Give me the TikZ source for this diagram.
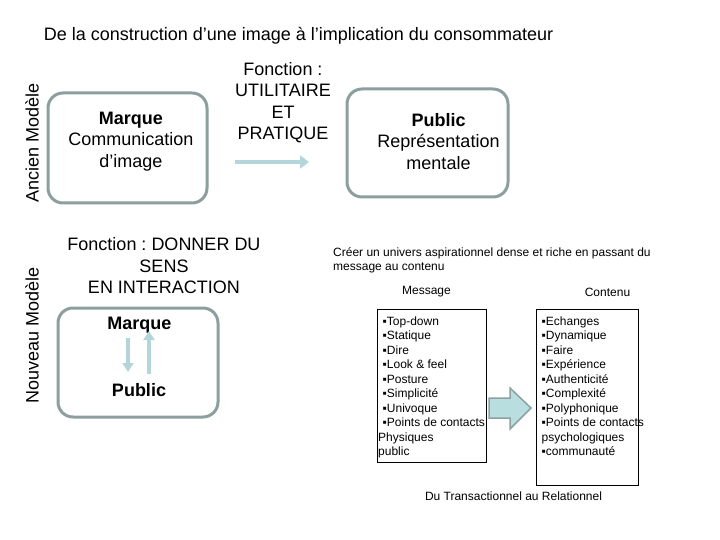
\documentclass[tikz,border=0pt]{standalone}
\usepackage{fontspec}
\setmainfont{Liberation Sans}
\usetikzlibrary{arrows.meta}
\definecolor{boxgray}{RGB}{140,158,158}
\definecolor{arrblue}{RGB}{180,214,218}
\definecolor{fatfill}{RGB}{184,222,224}
\definecolor{fatdraw}{RGB}{140,162,162}
\frenchspacing
\begin{document}
\begin{tikzpicture}[x=1pt,y=-1pt,
  rbox/.style={draw=boxgray, line width=3pt, rounded corners=15pt, inner sep=0pt},
  bigtxt/.style={font=\fontsize{18}{21.5}\selectfont, align=center, inner sep=0pt},
  smalltxt/.style={font=\fontsize{12}{14.5}\selectfont, inner sep=0pt},
  listbox/.style={draw=black, line width=1pt, inner sep=0pt},
  thinarrow/.style={draw=arrblue, line width=4.5pt, -{Triangle[length=9pt,width=13pt]}},
  smallarrow/.style={draw=arrblue, line width=4pt, -{Triangle[length=9pt,width=11pt]}},
  fatarrow/.style={fill=fatfill, draw=fatdraw, line width=1.5pt, line join=miter}]
\useasboundingbox (0,0) rectangle (720,540);

% title
\node[font=\fontsize{18}{21.5}\selectfont, inner sep=0pt] (title) at (298.5,36) {De la construction d’une image à l’implication du consommateur};

% side labels
\node[font=\fontsize{18}{21.5}\selectfont, rotate=90, inner sep=0pt] (ancien) at (32,142.5) {Ancien Modèle};
\node[font=\fontsize{18}{21.5}\selectfont, rotate=90, inner sep=0pt] (nouveau) at (32,335.5) {Nouveau Modèle};

% old model
\node[rbox, minimum width=159pt, minimum height=110pt] (b1) at (127.5,148) {};
\node[bigtxt] (b1t) at (131,141.5) {\textbf{Marque}\\Communication\\d’image};
\node[rbox, minimum width=161pt, minimum height=108pt] (b2) at (427.5,143) {};
\node[bigtxt] (b2t) at (438.5,141.5) {\textbf{Public}\\Représentation\\mentale};
\node[bigtxt] (f1) at (283,102.5) {Fonction :\\UTILITAIRE\\ET\\PRATIQUE};
\coordinate (a1s) at (235,162);
\coordinate (a1e) at (309,162);
\draw[thinarrow] (a1s) -- (a1e);

% new model
\node[bigtxt] (f2) at (164,266) {Fonction : DONNER DU\\SENS\\EN INTERACTION};
\node[rbox, minimum width=160pt, minimum height=109pt] (b3) at (138,362.5) {};
\node[bigtxt, font=\fontsize{18}{21.5}\selectfont\bfseries] (mq) at (139.5,325) {Marque};
\node[bigtxt, font=\fontsize{18}{21.5}\selectfont\bfseries] (pb) at (139,390) {Public};
\coordinate (d1) at (128,338);
\coordinate (d2) at (128,372);
\coordinate (u1) at (149,374);
\coordinate (u2) at (149,331);
\draw[smallarrow] (d1) -- (d2);
\draw[smallarrow] (u1) -- (u2);

% right part
\node[smalltxt, anchor=base west] (cr1) at (333,256) {Créer un univers aspirationnel dense et riche en passant du};
\node[smalltxt, anchor=base west] (cr2) at (333,270.5) {message au contenu};
\node[smalltxt] (msg) at (426.5,292) {Message};
\node[smalltxt] (cnt) at (607.5,292) {Contenu};

\node[listbox, minimum width=109pt, minimum height=153pt] (mbox) at (431.5,385.5) {};
\node[listbox, minimum width=102pt, minimum height=176pt] (cbox) at (587,397) {};

\foreach \t [count=\i from 0] in {▪Top-down,▪Statique,▪Dire,▪Look \& feel,▪Posture,▪Simplicité,▪Univoque,▪Points de contacts}
  \node[smalltxt, anchor=base west] (m\i) at (382.5,325+14.5*\i) {\t};
\node[smalltxt, anchor=base west] (m8) at (378,441) {Physiques};
\node[smalltxt, anchor=base west] (m9) at (378,455.5) {public};

\foreach \t [count=\i from 0] in {▪Echanges,▪Dynamique,▪Faire,▪Expérience,▪Authenticité,▪Complexité,▪Polyphonique,▪Points de contacts,psychologiques,▪communauté}
  \node[smalltxt, anchor=base west] (c\i) at (541.5,325+14.5*\i) {\t};

% fat arrow
\draw[fatarrow] (489,398) -- (510,398) -- (510,388) -- (531,408) -- (510,429) -- (510,418) -- (489,418) -- cycle;

\node[smalltxt] (du) at (513.5,496) {Du Transactionnel au Relationnel};
\end{tikzpicture}
\end{document}
